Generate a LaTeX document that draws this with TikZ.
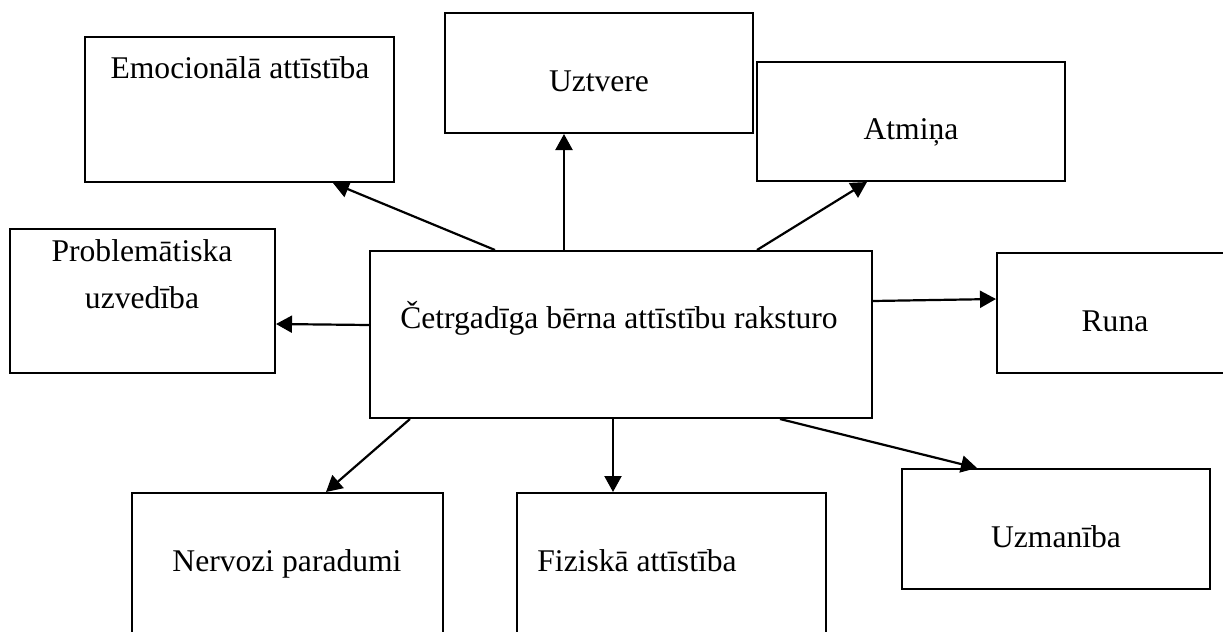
\documentclass[tikz,border=0pt]{standalone}
\usepackage{fontspec}
\setmainfont{Liberation Serif}
\usetikzlibrary{arrows.meta,fit}
\begin{document}
\begin{tikzpicture}[x=0.5pt,y=-0.5pt,
  box/.style={draw=black,line width=1pt,inner sep=0pt,rectangle},
  lbl/.style={inner sep=0pt,font=\fontsize{15.8}{23.5}\selectfont,text=black},
  arr/.style={line width=1.1pt,-{Triangle[length=8pt,width=8.5pt]}}]
\useasboundingbox (0,0) rectangle (1223,632);
\clip (0,0) rectangle (1223,632);
\fill[white] (0,0) rectangle (1223,632);
% boxes
\node[box,fit={(85,37) (394,182)}] (emo) {};
\node[box,fit={(445,13) (753,133)}] (uzt) {};
\node[box,fit={(757,62) (1065,181)}] (atm) {};
\node[box,fit={(10,229) (275,373)}] (prob) {};
\node[box,fit={(370,251) (872,418)}] (c) {};
\node[box,fit={(997,253) (1240,373)}] (runa) {};
\node[box,fit={(132,493) (443,660)}] (nerv) {};
\node[box,fit={(517,493) (826,660)}] (fiz) {};
\node[box,fit={(902,469) (1210,589)}] (uzm) {};
% labels
\node[lbl,anchor=base] (temo) at (240,78) {Emocionālā attīstība};
\node[lbl,anchor=base] (tuzt) at (599,91) {Uztvere};
\node[lbl,anchor=base] (tatm) at (911,139) {Atmiņa};
\node[lbl,anchor=base,align=center] (tprob) at (142,308) {Problemātiska\\uzvedība};
\node[lbl,anchor=base] (tc) at (619,328) {Četrgadīga bērna attīstību raksturo};
\node[lbl,anchor=base] (truna) at (1115,331) {Runa};
\node[lbl,anchor=base] (tnerv) at (287,571) {Nervozi paradumi};
\node[lbl,anchor=base west] (tfiz) at (537,571) {Fiziskā attīstība};
\node[lbl,anchor=base] (tuzm) at (1056,547) {Uzmanība};
% arrows
\draw[arr] (c.north -| 495,0) -- (emo.south -| 333,0);
\draw[arr] (c.north -| 564,0) -- (uzt.south -| 564,0);
\draw[arr] (c.north -| 757,0) -- (atm.south -| 867,0);
\draw[arr] (c.west |- 0,325) -- (prob.east |- 0,324);
\draw[arr] (c.east |- 0,301) -- (runa.west |- 0,299);
\draw[arr] (c.south -| 410,0) -- (nerv.north -| 326,0);
\draw[arr] (c.south -| 613,0) -- (fiz.north -| 613,0);
\draw[arr] (c.south -| 780,0) -- (uzm.north -| 977,0);
\end{tikzpicture}
\end{document}
